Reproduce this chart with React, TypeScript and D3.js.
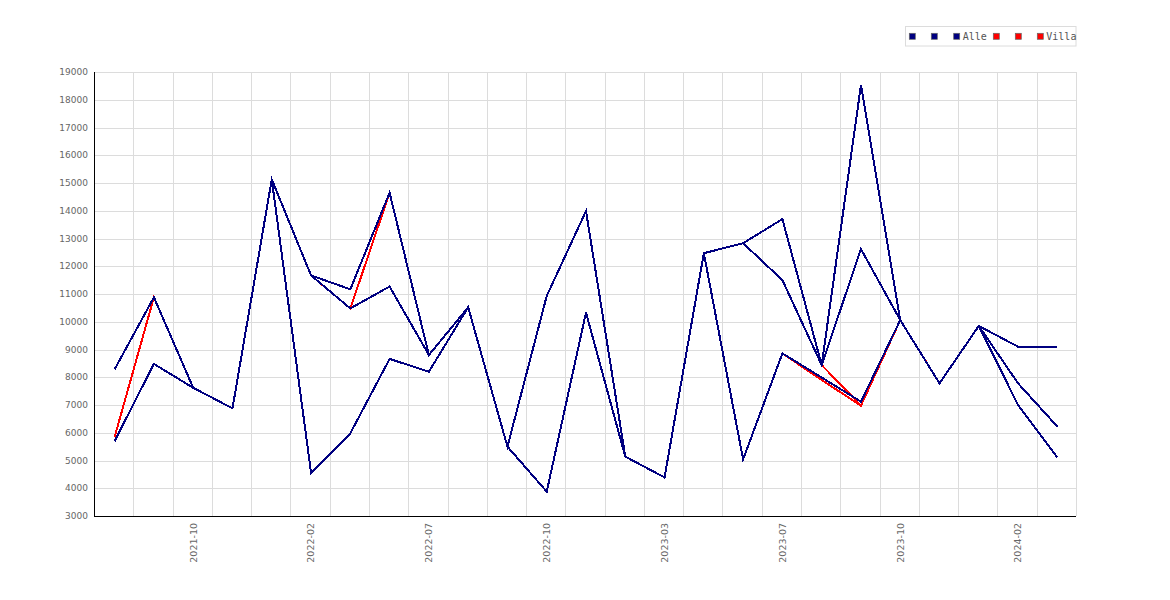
import React from "react";
import * as d3 from "d3";

const categories = [
  "2021-08", "2021-09", "2021-10", "2021-11", "2021-12", "2022-02", "2022-04", "2022-05",
  "2022-07", "2022-08", "2022-09", "2022-10", "2022-11", "2023-01", "2023-03", "2023-04",
  "2023-05", "2023-07", "2023-08", "2023-09", "2023-10", "2023-11", "2024-01", "2024-02", "2024-03",
];
const shownTicks = ["2021-10", "2022-02", "2022-07", "2022-10", "2023-03", "2023-07", "2023-10", "2024-02"];
const yTicks = [3000, 4000, 5000, 6000, 7000, 8000, 9000, 10000, 11000, 12000, 13000, 14000, 15000, 16000, 17000, 18000, 19000];

const alleA = [8290, 10880, 7620, 6880, 15130, 11670, 11170, 14650, 8800, 10520, 5500, 10930, 13990, 5140, 4390, 12470, 12830, 13700, 8440, 18530, 10060, 7780, 9850, 9100, 9100];
const alleB = [5700, 8480, 7620, 6880, 15130, 11670, 10480, 11270, 8800, 10520, 5500, 10930, 13990, 5140, 4390, 12470, 12830, 11500, 8440, 12620, 10060, 7780, 9850, 7780, 6220];
const alleC = [5700, 8480, 7620, 6880, 15130, 4560, 5980, 8660, 8200, 10520, 5500, 3880, 10330, 5140, 4390, 12470, 5040, 8860, 7990, 7120, 10060, 7780, 9850, 7000, 5110];

const villaA = [5850, 10880, 7620, 6880, 15130, 11670, 10480, 14650, 8800, 10520, 5500, 10930, 13990, 5140, 4390, 12470, 12830, 13700, 8440, 6980, 10060, 7780, 9850, 9100, 9100];
const villaB = [5700, 8480, 7620, 6880, 15130, 11670, 10480, 11270, 8800, 10520, 5500, 10930, 13990, 5140, 4390, 12470, 12830, 11500, 8440, 6980, 10060, 7780, 9850, 7780, 6220];
const villaC = [5700, 8480, 7620, 6880, 15130, 4560, 5980, 8660, 8200, 10520, 5500, 3880, 10330, 5140, 4390, 12470, 5040, 8860, 7900, 6980, 10060, 7780, 9850, 7000, 5110];

const legendLabels = ["", "", "Alle", "", "", "Villa"];
const NAVY = "#000080";
const RED = "#ff0000";

export default function App() {
  const W = 1170, H = 600;
  const left = 94, right = 1076, top = 72, bottom = 516;
  const x = d3.scaleBand<string>().domain(categories).range([left, right]);
  const y = d3.scaleLinear().domain([3000, 19000]).range([bottom, top]);
  const cx = (i: number) => (x(categories[i]) as number) + x.bandwidth() / 2 + 1;
  const line = d3.line<number>().x((_, i) => cx(i)).y((d) => y(d));

  const villa = [villaA, villaB, villaC];
  const alle = [alleC, alleB, alleA];

  const vGrid = categories.slice(1).map((c) => Math.round(x(c) as number) + 0.5).concat([right + 0.5]);

  const legendItems = [
    { color: NAVY, x: 909.3 }, { color: NAVY, x: 931.3 }, { color: NAVY, x: 953.7 },
    { color: RED, x: 993.3 }, { color: RED, x: 1015.3 }, { color: RED, x: 1037.3 },
  ];

  return (
    <svg width={W} height={H} style={{ position: "absolute", left: 0, top: 0, background: "#fff" }}>
      {yTicks.map((t) => (
        <line key={"h" + t} x1={left} x2={right} y1={Math.round(y(t)) + 0.5} y2={Math.round(y(t)) + 0.5} stroke="#dcdcdc" strokeWidth={1} />
      ))}
      {vGrid.map((gx, i) => (
        <line key={"v" + i} x1={gx} x2={gx} y1={top} y2={bottom} stroke="#dcdcdc" strokeWidth={1} />
      ))}
      {villa.map((s, i) => (
        <path key={"vl" + i} d={line(s) || ""} fill="none" stroke={RED} strokeWidth={2} strokeLinejoin="miter" shapeRendering="crispEdges" />
      ))}
      {alle.map((s, i) => (
        <path key={"al" + i} d={line(s) || ""} fill="none" stroke={NAVY} strokeWidth={2} strokeLinejoin="miter" shapeRendering="crispEdges" />
      ))}
      <line x1={left + 0.5} x2={left + 0.5} y1={top} y2={bottom + 1} stroke="#000" strokeWidth={1} />
      <line x1={left} x2={right} y1={bottom + 0.5} y2={bottom + 0.5} stroke="#000" strokeWidth={1} />
      {yTicks.map((t) => (
        <text key={"yt" + t} x={88} y={y(t)} dy="0.35em" textAnchor="end" fontFamily="DejaVu Sans" fontSize={9} fill="#666">
          {t}
        </text>
      ))}
      {categories.map((c, i) =>
        shownTicks.includes(c) ? (
          <text key={"xt" + c} transform={`translate(${cx(i)},523) rotate(-90)`} dy="0.35em" textAnchor="end" fontFamily="DejaVu Sans" fontSize={9.5} fill="#666">
            {c}
          </text>
        ) : null
      )}
      <rect x={905.5} y={26.5} width={170.5} height={19.5} fill="#fff" stroke="#dcdcdc" strokeWidth={1} />
      {legendItems.map((it, i) => (
        <g key={"lg" + i}>
          <rect x={it.x} y={33.3} width={6} height={6} fill={it.color} stroke="#666" strokeWidth={0.7} />
          {legendLabels[i] ? (
            <text x={it.x + 9} y={40.3} fontFamily="DejaVu Sans Mono" fontSize={10} fill="#555">
              {legendLabels[i]}
            </text>
          ) : null}
        </g>
      ))}
    </svg>
  );
}
